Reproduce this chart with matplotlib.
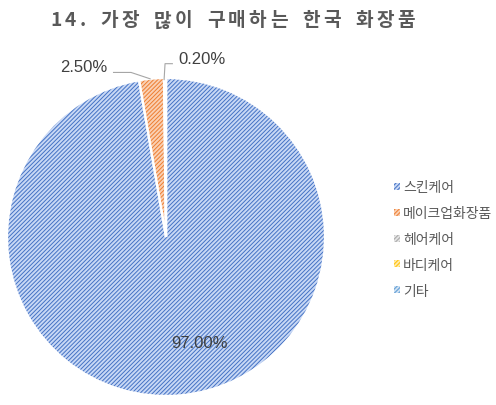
import matplotlib
matplotlib.use("Agg")
import matplotlib.pyplot as plt
from matplotlib.patches import Patch
import numpy as np

categories = ["스킨케어", "메이크업화장품", "헤어케어", "바디케어", "기타"]
values = [97.0, 2.5, 0.2, 0.0, 0.0]
label_texts = ["97.00%", "2.50%", "0.20%"]
title = "14. 가장 많이 구매하는 한국 화장품"

hatch_colors = ["#4472c4", "#ed7d31", "#a5a5a5", "#ffc000", "#5b9bd5"]
face_colors = ["#c8d8f5", "#fad0b3", "#e3e3e3", "#ffe9a8", "#cfe1f2"]

plt.rcParams['hatch.linewidth'] = 0.7
plt.rcParams['font.family'] = ['Noto Sans CJK KR', 'DejaVu Sans']
HATCH = '////////'

W, H = 496, 406
fig = plt.figure(figsize=(W / 100, H / 100), dpi=100)
fig.patch.set_facecolor("white")

cx, cy, R = 166, 238, 159
ax = fig.add_axes([(cx - R) / W, (H - cy - R) / H, 2 * R / W, 2 * R / H])

wedges, _ = ax.pie(values, startangle=90, counterclock=False, radius=1,
                   colors=face_colors, normalize=True,
                   wedgeprops=dict(linewidth=0, hatch=HATCH))
for w, hc in zip(wedges, hatch_colors):
    w.set_edgecolor(hc)
    w.set_linewidth(0)
ax.pie(values, startangle=90, counterclock=False, radius=1, normalize=True,
       colors=['none'] * len(values),
       wedgeprops=dict(linewidth=1.6, edgecolor='white', fill=False))
ax.set_xlim(-1, 1)
ax.set_ylim(-1, 1)
ax.set_aspect('equal')
ax.axis('off')

lab_col = "#404040"
lead_col = "#a6a6a6"
ax.text(0.21, -0.665, label_texts[0], ha='center', va='center', fontsize=12,
        color=lab_col, family='Liberation Sans')
ax.text(-0.52, 1.075, label_texts[1], ha='center', va='center', fontsize=12,
        color=lab_col, family='Liberation Sans', clip_on=False)
ax.text(0.225, 1.12, label_texts[2], ha='center', va='center', fontsize=12,
        color=lab_col, family='Liberation Sans', clip_on=False)
ax.plot([-0.33, -0.22, -0.10], [1.035, 1.035, 0.995], color=lead_col, lw=0.8, clip_on=False)
ax.plot([-0.012, -0.006, 0.04], [0.99, 1.09, 1.09], color=lead_col, lw=0.8, clip_on=False)

# title with extra letter spacing, placed char by char
renderer = fig.canvas.get_renderer()
tkw = dict(fontsize=13.8, fontweight='bold', color="#595959", va='center', ha='left')
x0, x1, ty = 50, 415, 1 - 21 / H
widths = []
for ch in title:
    t = fig.text(0, 0, ch if ch != ' ' else '가', **tkw)
    bb = t.get_window_extent(renderer)
    widths.append(bb.width * (0.45 if ch == ' ' else 1.0))
    t.remove()
gap = (x1 - x0 - sum(widths)) / (len(title) - 1)
x = x0
for ch, wd in zip(title, widths):
    if ch != ' ':
        fig.text(x / W, ty, ch, **tkw)
    x += wd + gap

handles = [Patch(facecolor=fc, edgecolor=hc, hatch=HATCH, linewidth=0)
           for fc, hc in zip(face_colors, hatch_colors)]
leg = fig.legend(handles, categories, loc='center left',
                 bbox_to_anchor=(387 / W, 1 - 240 / H), frameon=False,
                 fontsize=10, handlelength=0.4, handleheight=0.4,
                 handletextpad=0.25, labelspacing=0.85, borderpad=0)
for t in leg.get_texts():
    t.set_color("#595959")

fig.savefig("out.png", dpi=100, facecolor="white")
